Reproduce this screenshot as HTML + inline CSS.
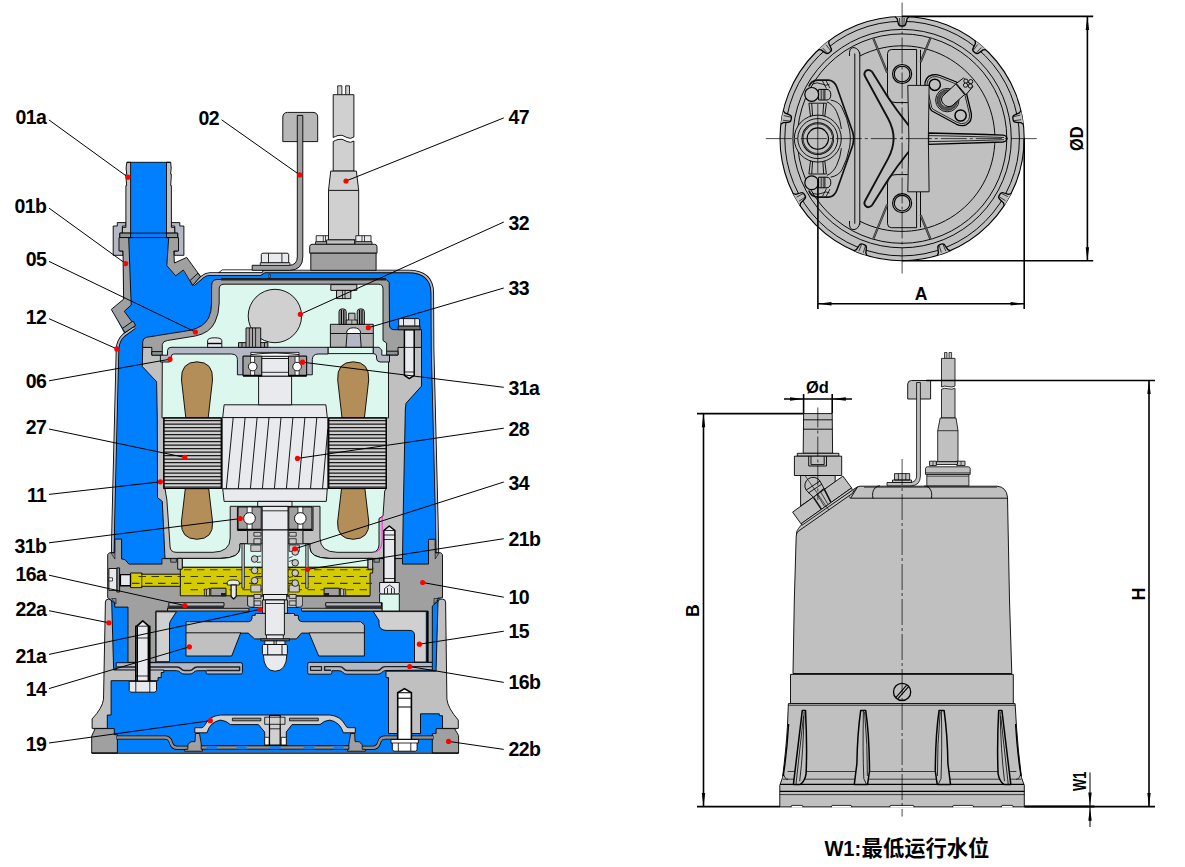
<!DOCTYPE html>
<html lang="zh">
<head>
<meta charset="utf-8">
<title>Pump sectional drawing</title>
<style>
html,body{margin:0;padding:0;background:#fff;}
svg{display:block;}
text{font-family:"Liberation Sans","Noto Sans CJK SC",sans-serif;font-weight:bold;fill:#000;}
.l{font-size:19.5px;}
.k{stroke:#000;stroke-width:0.9;fill:none;}
.ld{stroke:#000;stroke-width:1;fill:none;}
.d{fill:#ff0000;stroke:none;}
</style>
</head>
<body>
<svg width="1185" height="867" viewBox="0 0 1185 867">
<rect width="1185" height="867" fill="#fff"/>
<g id="xsec_water">
<!-- water (blue) silhouette -->
<path fill="#0080ff" d="M130.6 162.3H166.5V233L168.7 237.6L166.8 265.6L175.7 275.8L183 270.3L192.7 285.4L205.3 274.5H261L264.4 271.5H408C423 271.5 432.2 278 432.3 293L432.6 350L434.1 410L436.8 520L437.4 553L441.6 555L440.6 597V603L443.6 606L445.5 699Q447 708 456.5 721V729.5H453.5L457 736V752.5H93.3V736L96.8 729.5H93.6V721Q103 708 104.5 699L106.5 606L109.5 603V597L108.5 555L112.7 553L113.3 520L116 410L117.5 350Q117.6 340.5 124.3 334L112 309.4L123.6 299.2L123 251H119.5V237.6H128.7L130.6 233Z"/>
<!-- outer jacket (12): thin shell -->
<g fill="none" stroke-linejoin="round">
<path stroke="#000" stroke-width="3.5" d="M112.7 552.7L113.3 520L116 410L117.5 350Q117.6 340.5 124 335L134.5 327.4"/>
<path stroke="#b4b8c4" stroke-width="1.8" d="M112.7 552.7L113.3 520L116 410L117.5 350Q117.6 340.5 124 335L134.5 327.4"/>
<path stroke="#000" stroke-width="3.5" d="M193.5 284.5L203 276.5Q206 274 210 274H260.5L264.5 271.4H408C423 271.4 432.2 278 432.3 293L432.6 350L434.1 410L436.8 520L437.4 552.7"/>
<path stroke="#b4b8c4" stroke-width="1.8" d="M193.5 284.5L203 276.5Q206 274 210 274H260.5L264.5 271.4H408C423 271.4 432.2 278 432.3 293L432.6 350L434.1 410L436.8 520L437.4 552.7"/>
</g>
<!-- outlet pipe 01a -->
<g stroke="#000" stroke-width="0.9" stroke-linejoin="round">
<path fill="#b4b8c4" d="M117.3 222.6H125.9V226H122.4V233.1H119.8V251H123V255.3H113.2V226H117.3Z"/>
<path fill="#b4b8c4" d="M179.8 222.6H171.2V226H174.7V233.1H177.7V251H174.2V255.3H183.9V226H179.8Z"/>
<path fill="#c0c0c0" d="M126.8 162.3H130.6V233.1H122.4V227.4H125.9V185.6H126.6L125.9 174.2H126.7L126.1 168Z"/>
<path fill="#c0c0c0" d="M170.7 162.3H166.5V233.1H174.7V227.4H171.4V185.6H170.7L171.4 174.2H170.6L171.2 168Z"/>
<path fill="#8c9494" d="M119.8 233.1H130.6V237.6H119.8Z"/>
<path fill="#8c9494" d="M166.5 233.1H177.7V237.6H166.5Z"/>
<path fill="none" d="M126.8 162.3H170.7M130.6 233.1H166.5M128.7 237.6H168.7"/>
<!-- elbow 01b -->
<path fill="#a0a0a0" d="M119 237.6H128.7L131.2 305L124.3 311.3L135 325.9L132.8 327.5L122.4 328.4L111.3 309.4L123.6 299.2L123 251H119Z"/>
<path fill="#8c9494" d="M122.4 328.4L133 321L135.6 325.5L125 332.5Z"/>
<path fill="#a0a0a0" d="M178.5 237.6H168.7L166.8 265.6L175.7 275.8L183.3 270L192.7 285.4L200.4 276.4L186.7 257.4L174.4 263L173.8 251H178.5Z"/>
<path fill="#8c9494" d="M190 280.5L198 273.2L200.4 276.4L192.7 285.4Z"/>
</g>
</g>
<g id="xsec_motor">
<g stroke="#000" stroke-width="0.9" stroke-linejoin="round">
<path fill="#c0c0c0" d="M142.7 347.4L142.3 366.5L156.6 381.7L157.3 420L157.5 497.6L162.3 501.4L165 558.4H402.5L403.1 520L405.3 410L406 403.3L421.5 386.1V347.4Z"/>
<path fill="#a0a0a0" d="M142.7 347.4V341.7Q143 338 146.5 337.3L190.3 330.3Q204 327 208.6 318Q211.5 312 211.6 303V285.4Q211.8 279.6 217 279.5H386.2L389.2 282.5L389.5 325Q389.6 329.6 394 329.7H421.5V347.4H398V355H151.8V347.4Z"/>
<path fill="#8c9494" d="M151.8 351.6H167.7V355.2H151.8Z"/>
<path fill="#8c9494" d="M381.8 351.2H398V355H381.8Z"/>
<path fill="#dcf8ee" d="M162.3 362V344.3Q163 341 167.4 340.5L195.3 336Q210 333 215 322Q219 314 219.2 303V289Q219.3 284.3 224 284.2H378.5Q383 284.3 383 289V340.5L386.6 343V355.7H388.5V417.9H386.2V488.7L384.7 491L383 516L379 518.5V545Q378.6 552 372 552.3H337Q320.2 552 320 538V506.3H230.2V538Q230 552 213 552.3H176Q170.5 552 170.1 547L166.9 500L165 488.7H163.9V417.9H162Z"/>
<path fill="#202020" stroke="none" d="M221 277.9H386V280.6H221Z"/>
<path fill="#a0a0a0" d="M268.9 274.3h1.4v3.6h-1.4z" stroke-width="0.6"/>
<path fill="none" stroke="#ff20e0" stroke-width="1" d="M382.2 515.9V540Q382 551 374.6 552.3"/>
<path fill="#b4b8c4" d="M160.4 355.2H167.5V350.5Q167.7 347.4 171 347.3H328.2V354H318Q312.4 354.3 312.3 359.5V374.8H306.6V356.2H243.1V374.8H237.4V359.5Q237.3 354.3 231.7 354H173.5Q171.3 354.3 171.2 357V360Q171 362 169 362H160.4Z"/>
<path fill="#dcf8ee" d="M328.2 347.3H373.3V353.6H328.2Z"/>
<path fill="#b4b8c4" d="M373.3 347.3H379L381.8 350V355.2H389.5V362H380Q376.6 361.8 376.5 358V356Q376.3 353.8 373.3 353.6Z"/>
<path fill="#e8eaee" d="M207.6 347.3V340.5Q207.8 337.8 214.7 337.8Q221.6 337.8 221.8 340.5V347.3Z"/>
<path fill="none" stroke-width="1.4" d="M207.8 343.5H221.6"/>
<circle cx="274.9" cy="316" r="26.7" fill="#d0d0d0"/>
<path fill="#a0a0a0" d="M238.5 342.6H267.9V347.3H238.5Z"/>
<path fill="#a8a8a8" d="M246 327.9H260.7V347.3H246Z"/>
<path fill="none" stroke-width="0.8" d="M249.3 327.9V347M252.5 327.9V347M255.6 327.9V347M242 342.6V347M264.5 342.6V347"/>
<path fill="#c0c0c0" d="M330.8 284.6H356.8V290.4H330.8Z"/>
<path fill="#c0c0c0" d="M336.5 290.4H350.8V298.6H336.5Z"/>
<path fill="none" stroke-width="0.7" d="M342.5 290.4V298.6M345 290.4V298.6"/>
<path fill="#b0b0b0" d="M330.4 324.3H373.3V347.2H330.4Z"/>
<path fill="none" d="M330.4 333.5H346M361.2 333.5H373.3"/>
<path fill="#b4b8c4" d="M346 347.2L347 333.5H360.2L361.2 347.2Z"/>
<path fill="#fff" d="M346.5 333.5Q346.6 327.8 353.6 327.8Q360.6 327.8 360.7 333.5Z"/>
<path fill="#a8a8a8" d="M339 324.3V311.5Q339 308.8 342.6 308.8Q346.2 308.8 346.2 311.5V324.3Z"/>
<path fill="none" stroke-width="1.2" d="M341.4 310V324M343.8 310V324"/>
<path fill="#a8a8a8" d="M357.2 324.3V311.5Q357.2 308.8 360.8 308.8Q364.4 308.8 364.4 311.5V324.3Z"/>
<path fill="none" stroke-width="1.2" d="M359.59999999999997 310V324M362.0 310V324"/>
<path fill="#b8b8b8" d="M348.6 313.2H355V320H357.2V324.3H346.2V320H348.6Z"/>
<path fill="none" stroke-width="0.6" d="M348.6 320H355M351.8 320V324.3"/>
<path fill="#b48e58" d="M185.8 417.9L181.5 380Q180.5 362 197 361.8Q213.5 362 212.5 380L208.2 417.9Z"/>
<path fill="#b48e58" d="M185.3 488.7L181.4 522Q180.5 539 197 539.3Q213.5 539 212.6 522L208.7 488.7Z"/>
<path fill="#b48e58" d="M342.0 417.9L337.7 380Q336.7 362 353.2 361.8Q369.7 362 368.7 380L364.4 417.9Z"/>
<path fill="#b48e58" d="M341.5 488.7L337.59999999999997 522Q336.7 539 353.2 539.3Q369.7 539 368.8 522L364.9 488.7Z"/>
<path fill="#cfcfcf" d="M163.9 417.9H221.3V488.5H163.9Z"/>
<path fill="none" stroke="#1a1a1a" stroke-width="1.15" d="M163.9 420.60H221.3M163.9 424.10H221.3M163.9 427.60H221.3M163.9 431.10H221.3M163.9 434.60H221.3M163.9 438.10H221.3M163.9 441.60H221.3M163.9 445.10H221.3M163.9 448.60H221.3M163.9 452.10H221.3M163.9 455.60H221.3M163.9 459.10H221.3M163.9 462.60H221.3M163.9 466.10H221.3M163.9 469.60H221.3M163.9 473.10H221.3M163.9 476.60H221.3M163.9 480.10H221.3M163.9 483.60H221.3M163.9 487.10H221.3"/>
<path fill="none" stroke-width="1.1" d="M163.9 417.9H221.3V488.5H163.9Z"/>
<path fill="#cfcfcf" d="M328.7 417.9H386.2V488.5H328.7Z"/>
<path fill="none" stroke="#1a1a1a" stroke-width="1.15" d="M328.7 420.60H386.2M328.7 424.10H386.2M328.7 427.60H386.2M328.7 431.10H386.2M328.7 434.60H386.2M328.7 438.10H386.2M328.7 441.60H386.2M328.7 445.10H386.2M328.7 448.60H386.2M328.7 452.10H386.2M328.7 455.60H386.2M328.7 459.10H386.2M328.7 462.60H386.2M328.7 466.10H386.2M328.7 469.60H386.2M328.7 473.10H386.2M328.7 476.60H386.2M328.7 480.10H386.2M328.7 483.60H386.2M328.7 487.10H386.2"/>
<path fill="none" stroke-width="1.1" d="M328.7 417.9H386.2V488.5H328.7Z"/>
<path fill="#e8eaee" d="M224.1 404.8H325.9L327.3 417.6H222.7Z"/>
<path fill="#e8eaee" d="M222.7 488.7H327.3L326.3 501.4H224.1Z"/>
<path fill="#e8eaee" d="M222.2 417.6H327.8V488.7H222.2Z"/>
<path fill="none" stroke-width="0.9" d="M226.3 488.7L233.2 417.6M238.3 488.7L245.1 417.6M250.4 488.7L257.1 417.6M262.4 488.7L269.0 417.6M274.4 488.7L281.0 417.6M286.4 488.7L292.9 417.6M298.5 488.7L304.9 417.6M310.5 488.7L316.8 417.6M322.5 488.7L327.8 429.0"/>
<path fill="#e8eaee" d="M258.6 376.1H291.6V404.8H258.6Z"/>
<path fill="#fff" d="M250.8 352.4H299V356.2H250.8Z" stroke-width="0.8"/>
<path fill="none" stroke-width="0.9" d="M251 354.6Q275 351.5 299 354.6"/>
<path fill="#a0a0a0" d="M243.1 356.2H261.8V376.1H243.1Z"/>
<path fill="#a0a0a0" d="M288.5 356.2H306.6V376.1H288.5Z"/>
<path fill="#fff" stroke="none" d="M250.6 357H254.6V375.5H250.6ZM295.1 357H299.1V375.5H295.1Z"/>
<path fill="none" stroke-width="0.7" d="M250.6 356.5V376M254.6 356.5V376M295.1 356.5V376M299.1 356.5V376"/>
<circle cx="252.7" cy="366.6" r="4.3" fill="#fff"/>
<circle cx="297.1" cy="366.6" r="4.3" fill="#fff"/>
<path fill="#e8eaee" d="M261.8 358.5H288.5V376.1H261.8Z"/>
<path fill="none" stroke-width="0.8" d="M261.8 372.3H288.5"/>
<path fill="none" stroke-width="1.6" d="M243.1 375.6H261.8M288.5 375.6H306.6"/>
<path fill="none" d="M237.4 507V530.5H247.6V543.8H240V547.5Q240 558 221 558.4M313 507V530.5H302.8V543.8H309.8V547.5Q310 558 329 558.4"/>
<path fill="#c0c0c0" d="M177.7 558.4H182.2V569.2H177.7Z"/>
<path fill="#c0c0c0" d="M368 558.4H372.7V569.2H368Z"/>
<path fill="#e8eaee" d="M257.7 501.4H292V506.4H257.7Z"/>
<path fill="#a0a0a0" d="M238.1 507H261.2V529.8H238.1Z"/>
<path fill="#a0a0a0" d="M288.8 507H311.9V529.8H288.8Z"/>
<path fill="#fff" stroke="none" d="M247.2 507.5H252V529.4H247.2ZM298 507.5H302.8V529.4H298Z"/>
<path fill="none" stroke-width="0.7" d="M247.2 507V529.8M252 507V529.8M298 507V529.8M302.8 507V529.8"/>
<circle cx="249.5" cy="518.4" r="5.8" fill="#fff"/>
<circle cx="300.3" cy="518.4" r="5.8" fill="#fff"/>
<path fill="none" stroke-width="1.6" d="M238.1 529.6H261.2M288.8 529.6H311.9"/>
<path fill="#e8eaee" d="M262.2 506.4H288V530H262.2Z"/>
<path fill="none" stroke-width="0.8" d="M262.2 510.8H288"/>
</g>
</g>
<g id="xsec_lower">
<g stroke="#000" stroke-width="0.9" stroke-linejoin="round">
<path fill="#a0a0a0" d="M107.7 554.6L109.5 552.7H114.9V539.1H121.6V559L125 559.6L128.9 564.1H161.9V558.6H402.5V564.1H428.5V539.3H435.2V552.7H440.6L442.5 554.6V597.7L437.6 598.2V601.5L432.3 606V662.3H427.9V611H301.5V608.5H248.9V608.5H167.6V611H155.9V662.3H128V607.1H114.9L114.5 602.7L107.7 597.7Z"/>
<path fill="#8c9494" stroke-width="0.6" d="M111 553H114.9V559Z"/>
<path fill="#8c9494" stroke-width="0.6" d="M439 553H435.2V559Z"/>
<path fill="#8c9494" stroke-width="0.6" d="M111.5 598.5H116V604Z"/>
<path fill="#8c9494" stroke-width="0.6" d="M438.5 598.5H434V604Z"/>
<path fill="#8c9494" stroke-width="0.7" d="M170.7 558.6H176.4V562.2H170.7Z"/>
<path fill="#8c9494" stroke-width="0.7" d="M374 558.6H379.4V562.2H374Z"/>
<path fill="#dcf8ee" d="M182.2 558.4H221Q240 558 240 547.5V543.8H309.8V547.5Q310 558 329 558.4H368V567.3H182.2Z"/>
<path fill="#d4cc00" d="M180.3 567.3H372.7V573H370.1V595.8H180.3Z"/>
<path fill="#d4cc00" d="M130.5 573H141.8V574.2H180.3V586.3H141.8V587.6H130.5Z"/>
<path fill="none" stroke-width="0.7" d="M141.8 573V587.6"/>
<path fill="none" stroke="#3a3800" stroke-width="1.1" d="M184.0 569.8H191.5M197.0 569.8H204.5M210.0 569.8H217.5M223.0 569.8H230.5M236.0 569.8H243.5M249.0 569.8H256.5M262.0 569.8H269.5M275.0 569.8H282.5M288.0 569.8H295.5M301.0 569.8H308.5M314.0 569.8H321.5M327.0 569.8H334.5M340.0 569.8H347.5M353.0 569.8H360.5M366.0 569.8H372.0M138.5 576.5H146.0M151.5 576.5H159.0M164.5 576.5H172.0M177.5 576.5H185.0M190.5 576.5H198.0M203.5 576.5H211.0M216.5 576.5H224.0M229.5 576.5H237.0M242.5 576.5H250.0M255.5 576.5H263.0M268.5 576.5H276.0M281.5 576.5H289.0M294.5 576.5H302.0M307.5 576.5H315.0M320.5 576.5H328.0M333.5 576.5H341.0M346.5 576.5H354.0M359.5 576.5H367.0M132.0 583.4H139.5M145.0 583.4H152.5M158.0 583.4H165.5M171.0 583.4H178.5M184.0 583.4H191.5M197.0 583.4H204.5M210.0 583.4H217.5M223.0 583.4H230.5M236.0 583.4H243.5M249.0 583.4H256.5M262.0 583.4H269.5M275.0 583.4H282.5M288.0 583.4H295.5M301.0 583.4H308.5M314.0 583.4H321.5M327.0 583.4H334.5M340.0 583.4H347.5M353.0 583.4H360.5M366.0 583.4H372.0M190.5 589.8H198.0M203.5 589.8H211.0M216.5 589.8H224.0M229.5 589.8H237.0M242.5 589.8H250.0M255.5 589.8H263.0M268.5 589.8H276.0M281.5 589.8H289.0M294.5 589.8H302.0M307.5 589.8H315.0M320.5 589.8H328.0M333.5 589.8H341.0M346.5 589.8H354.0M359.5 589.8H367.0"/>
<path fill="#c0c0c0" d="M177.7 558.4H182.2V569.2H177.7Z"/>
<path fill="#c0c0c0" d="M368 558.4H372.7V569.2H368Z"/>
<path fill="#8c9494" d="M116.8 567.9H119.6V592H116.8Z"/>
<path fill="#e8eaee" d="M108.9 568.5H116.8V590.4H108.9Z"/>
<path fill="#fff" stroke-width="0.7" d="M108.9 577.8H112.5V581H108.9Z"/>
<path fill="#e8eaee" stroke-width="1.4" d="M120.4 574.6H130.5V585.7H120.4Z"/>
<path fill="#c0c0c0" stroke-width="0.7" d="M247.6 530.5H262.2V543.8H247.6ZM288 530.5H302.8V543.8H288Z"/>
<path fill="#0080ff" stroke="none" d="M248.9 605.5H301.5V612H248.9Z"/>
<path fill="#c0c0c0" stroke-width="0.7" d="M247.6 596.3H302.8V605.6H300L298 607.5H252L250 605.6H247.6Z"/>
<path fill="#a0a0a0" d="M210.8 588.2L226.0 588.2L226.0 595.8L210.8 595.8Z"/>
<path fill="#c0c0c0" stroke-width="0.7" d="M204.4 589L206.4 589L206.4 595.8L204.4 595.8Z"/>
<path fill="#c0c0c0" stroke-width="0.7" d="M206.4 589.5L209.5 588.2L209.5 595.8L206.4 595.8Z"/>
<path fill="#202020" stroke="none" d="M221.0 593L226.0 593L226.0 596.3L221.0 596.3Z"/>
<path fill="#c8c8c8" stroke-width="0.7" d="M253.9 532.4L260.9 532.4L260.9 536.2L253.9 536.2Z"/>
<path fill="#c8c8c8" stroke-width="0.7" d="M253.9 538.7L260.9 538.7L260.9 543.8L253.9 543.8Z"/>
<path fill="#c8c8c8" stroke-width="0.7" d="M250.8 545L260.9 545L260.9 551.4L250.8 551.4Z"/>
<path fill="#c8c8c8" stroke-width="0.7" d="M250.8 585L260.9 585L260.9 592L250.8 592Z"/>
<path fill="#c8c8c8" stroke-width="0.7" d="M253.9 594.5L260.9 594.5L260.9 598.4L253.9 598.4Z"/>
<path fill="#c8c8c8" stroke-width="0.7" d="M253.9 600.9L260.9 600.9L260.9 605.3L253.9 605.3Z"/>
<path fill="#b4b8c4" stroke-width="0.7" d="M241.9 543.8L244.4 543.8L244.4 588.2L241.9 588.2Z"/>
<path fill="#c0c0c0" stroke-width="0.7" d="M247.6 596.3L253.9 596.3L253.9 607.1L249.5 607.1L247.6 605Z"/>
<path fill="#a0a0a0" d="M339.3 588.2L324.1 588.2L324.1 595.8L339.3 595.8Z"/>
<path fill="#c0c0c0" stroke-width="0.7" d="M345.7 589L343.7 589L343.7 595.8L345.7 595.8Z"/>
<path fill="#c0c0c0" stroke-width="0.7" d="M343.7 589.5L340.6 588.2L340.6 595.8L343.7 595.8Z"/>
<path fill="#202020" stroke="none" d="M329.1 593L324.1 593L324.1 596.3L329.1 596.3Z"/>
<path fill="#c8c8c8" stroke-width="0.7" d="M296.2 532.4L289.2 532.4L289.2 536.2L296.2 536.2Z"/>
<path fill="#c8c8c8" stroke-width="0.7" d="M296.2 538.7L289.2 538.7L289.2 543.8L296.2 543.8Z"/>
<path fill="#c8c8c8" stroke-width="0.7" d="M299.3 545L289.2 545L289.2 551.4L299.3 551.4Z"/>
<path fill="#c8c8c8" stroke-width="0.7" d="M299.3 585L289.2 585L289.2 592L299.3 592Z"/>
<path fill="#c8c8c8" stroke-width="0.7" d="M296.2 594.5L289.2 594.5L289.2 598.4L296.2 598.4Z"/>
<path fill="#c8c8c8" stroke-width="0.7" d="M296.2 600.9L289.2 600.9L289.2 605.3L296.2 605.3Z"/>
<path fill="#b4b8c4" stroke-width="0.7" d="M308.2 543.8L305.7 543.8L305.7 588.2L308.2 588.2Z"/>
<path fill="#c0c0c0" stroke-width="0.7" d="M302.5 596.3L296.2 596.3L296.2 607.1L300.6 607.1L302.5 605Z"/>
<circle cx="254.6" cy="559" r="3.3" fill="#c8c8c8" stroke-width="0.8"/>
<circle cx="254.6" cy="570.4" r="3.3" fill="#c8c8c8" stroke-width="0.8"/>
<circle cx="254.6" cy="580.6" r="3.3" fill="#c8c8c8" stroke-width="0.8"/>
<circle cx="295.2" cy="552" r="3.3" fill="#c8c8c8" stroke-width="0.8"/>
<circle cx="295.2" cy="562.8" r="3.3" fill="#c8c8c8" stroke-width="0.8"/>
<circle cx="295.2" cy="573" r="3.3" fill="#c8c8c8" stroke-width="0.8"/>
<circle cx="295.2" cy="583.1" r="3.3" fill="#c8c8c8" stroke-width="0.8"/>
<path fill="none" stroke-width="0.7" d="M257 556.5L261 556M257 562.5L261 562M257 567.5L261 568M257 574L261 573.5M257 578L261 578M289 558L292.5 556.5M289 561.5L293 560M289 568.5L293 567M289 577.5L293 576.5M289 581L293 580"/>
<path fill="#e8eaee" stroke-width="0.8" d="M227.3 585V582.5Q227.5 580 233.3 580Q239.1 580 239.3 582.5V585Z"/>
<path fill="#e8eaee" stroke-width="1.1" d="M231.1 585H236.2V596.5L233.6 599L231.1 596.5Z"/>
<path fill="#e8eaee" d="M262.2 530H288V594.5H262.2Z"/>
<path fill="#e8eaee" d="M263.5 594.5H286.7V600H263.5Z"/>
<path fill="#b4b8c4" d="M168.8 602.7H224V606.1H168.8Z"/>
<path fill="#303030" stroke="none" d="M167.6 606.1H224V608.6H167.6Z"/>
<path fill="#b4b8c4" d="M325.7 602.7H381.5V606.1H325.7Z"/>
<path fill="#303030" stroke="none" d="M325.7 606.1H382.2V608.6H325.7Z"/>
<path fill="#b0b0b0" stroke-width="0.8" d="M167.6 608.3H248.9V611H167.6Z"/>
<path fill="#b0b0b0" stroke-width="0.8" d="M301.5 608.3H382.2V611H301.5Z"/>
<path fill="#a0a0a0" d="M302.8 596.3H380V607.1H302.8Z" stroke="none"/>
<path fill="none" d="M302.8 596.3H370"/>
<path fill="#b4b8c4" d="M325.7 602.7H381.5V606.1H325.7Z"/>
<path fill="#303030" stroke="none" d="M325.7 606.1H382.2V608.6H325.7Z"/>
<path fill="#dcf8ee" d="M379.6 593.9H399.3V611H382.2V602.7H379.6Z"/>
<path fill="#e8eaee" stroke-width="1.5" d="M383.8 582.5V530.5L389.3 526L394.9 530.5V582.5Z"/>
<path fill="none" stroke-width="0.8" d="M383.8 530.5H394.9M383.8 535H394.9M383.8 539.5H394.9M383.8 578.5H394.9"/>
<path fill="#e8eaee" d="M379.6 582.5H399.3V592.5L398 593.9H381L379.6 592.5Z"/>
<path fill="none" stroke-width="0.8" d="M384.5 593.9V588.5L389.4 585L394.4 588.5V593.9M387.5 588V593.9M391.5 588V593.9"/>
<path fill="#d0d0d0" d="M156.1 611.8H176.4L170.7 620.5Q169.5 622.5 169.5 625V661.7H156.1Z"/>
<path fill="#d0d0d0" d="M373.3 611.6H426.3V662.1H414.5V635Q414.3 630.6 410 630.4H386Q379.3 630 379 624L379 620.5Z"/>
<path fill="none" stroke-width="1.6" d="M427.6 611V662"/>
<path fill="#c0c0c0" d="M186 621.7H248.5Q251.5 621.5 252 618.5V615.4H255.2V613.5H294.5V615.4H298.4V618.5Q298.8 621.5 302 621.7H360.6L364.4 625V656H318.7L309.1 633.1H301.5L296.4 638.9H254.6L248.2 633.1H240.6L231.7 656H186Z"/>
<path fill="none" d="M186 632.8H241M309 632.8H364.4"/>
<path fill="none" stroke="#00e0e0" stroke-width="1" d="M186.3 625L189.5 622"/>
<path fill="#c0c0c0" stroke-width="0.8" d="M262.5 600H287.5V613.3H262.5Z"/>
<path fill="#e8eaee" d="M265.4 600H284.4V635H265.4Z"/>
<path fill="#e8eaee" stroke-width="0.8" d="M266.5 635H283.3V638.9H266.5Z"/>
<path fill="none" stroke-width="0.8" d="M265.4 603.5H284.4"/>
<path fill="#808080" stroke-width="0.8" d="M260.7 638.9H289.5V640.8H260.7Z"/>
<path fill="#e8eaee" d="M263.3 654.8Q263.8 671 275.1 671.2Q286.4 671 286.9 654.8Z"/>
<path fill="#e8eaee" stroke-width="0.8" d="M264.8 640.9H284.9V644.5H264.8Z"/>
<path fill="#e8eaee" d="M263.6 644.5H286.2Q287.4 644.6 287.4 645.8V653.5Q287.4 654.8 286.2 654.8H263.6Q262.4 654.8 262.4 653.5V645.8Q262.4 644.6 263.6 644.5Z"/>
<path fill="none" stroke-width="0.9" d="M267.7 644.5V654.8M282 644.5V654.8M274 641V644.5M276.2 641V644.5"/>
<path fill="#b4b8c4" d="M116.2 662.7H240.9Q242.4 662.7 242.4 664.2V672.5Q242.4 674 240.9 674H207.6Q206.1 674 206.1 672.3V670.7H197.5Q195 670.8 193.5 672.5Q192 674 190 674H184Q182 674 180.5 672.5Q179 670.8 176.5 670.7L116.2 670.3Z"/>
<path fill="none" stroke="#202020" stroke-width="1.5" d="M116.6 666.9H177Q179.5 667 181 668.7Q182.5 670.5 184.5 670.6H189.7Q191.7 670.5 193.2 668.7Q194.7 667 197.2 666.9H239.6V670.4H206.5"/>
<path fill="#b4b8c4" d="M432.3 662.4H309.2Q307.7 662.4 307.7 664V672.7Q307.7 674.2 309.2 674.2H330.4Q331.9 674.2 331.9 672.5V670.7H339Q341.5 670.8 343 672.5Q344.5 674.2 346.5 674.2H378.2Q380.2 674.2 381.7 672.5Q383.2 670.8 385.5 670.5L432.3 670.1Z"/>
<path fill="none" stroke="#202020" stroke-width="1.2" d="M310.5 666.6H321.5V670.3H310.5Z"/>
<path fill="none" stroke="#202020" stroke-width="1.4" d="M331 670.3H324.6V666.6H339.6Q342 666.7 343.5 668.5Q345 670.4 347 670.5H377.7Q379.7 670.4 381.2 668.5Q382.7 666.7 385 666.6H432"/>
<path fill="#c0c0c0" d="M105.4 602Q105.6 599.2 108.5 599.1Q111.5 599.2 111.7 602L113.6 668.7V670H163.8V672.5H161.2V677.6H158V680.7H111.1V715H107.3V728.4H92.1V718.9Q102.5 708 103.5 699.2Z"/>
<path fill="#c0c0c0" d="M445.6 602Q445.4 599.2 442.5 599.1Q438.2 599.2 438 602L436.1 668.7V671.2H386V677.6H388.5V733.5H420.5V713.8H439.3V715.7H442.5V728.4H458.3V720.1Q447.8 708 446.9 699.2Z"/>
<path fill="#a0a0a0" d="M91.7 736L95.2 728.6H114.3V734.7H117.4V753.1H91.7Z"/>
<path fill="#a0a0a0" d="M458.6 735.4L454.5 728.6H436.1V733.5H432.3V753.1H458.6Z"/>
<path fill="none" stroke="#000" stroke-width="4" d="M116.5 737.5H165Q169 737.6 170.3 741L171.5 744Q172.8 747.6 177 747.7H188"/>
<path fill="none" stroke="#909090" stroke-width="2.4" d="M116.9 737.5H165Q169 737.6 170.3 741L171.5 744Q172.8 747.6 177 747.7H188"/>
<path fill="none" stroke="#000" stroke-width="4" d="M433.5 737.5H385Q381 737.6 379.7 741L378.5 744Q377.2 747.6 373 747.7H362"/>
<path fill="none" stroke="#909090" stroke-width="2.4" d="M433.1 737.5H385Q381 737.6 379.7 741L378.5 744Q377.2 747.6 373 747.7H362"/>
<path fill="none" stroke="#000" stroke-width="4.2" d="M199.3 747.4H351"/>
<path fill="none" stroke="#909090" stroke-width="2.5" d="M199.3 747.4H351"/>
<path fill="none" stroke="#0080ff" stroke-width="2.5" d="M206.3 747.4H217.2M236.8 747.4H246.5M269.7 747.4H280.7M303.5 747.4H314.3M333.7 747.4H343.5"/>
<path fill="#a0a0a0" stroke-width="0.8" d="M184.7 749.3L187.9 749.3L187.9 744.5L191.0 741.7L195.0 741.7L195.5 733.5L199.5 733.5L201.2 744L201.2 749.3L202.5 749.3L202.5 751.2L184.7 751.2Z"/>
<path fill="#a0a0a0" stroke-width="0.8" d="M365.4 749.3L362.2 749.3L362.2 744.5L359.1 741.7L355.1 741.7L354.6 733.5L350.6 733.5L348.9 744L348.9 749.3L347.6 749.3L347.6 751.2L365.4 751.2Z"/>
<path fill="#d0d0d0" d="M194.8 727.7H201.8Q203.5 727.5 204.5 725.5Q209 716 220.3 715H329.8Q341 716 345.6 725.5Q346.5 727.5 348.3 727.7H355.3V732.8H343.4Q340 722 329.8 720.1Q324 720.5 320 724.6H292L286.3 732V737.3H286.3V744.9H264.7V737.3V732L258.4 724.6H230.5Q226 720.5 220.3 720.1Q210 722 207 732.8H194.8Z"/>
<path fill="#909090" stroke-width="0.8" d="M232.4 718.2H260.9V720.8H232.4ZM289.5 718.2H318.3V720.8H289.5Z"/>
<path fill="#fff" stroke-width="0.8" d="M264.7 737.3H269.2V744.9H264.7ZM281.2 737.3H286.3V744.9H281.2Z"/>
<path fill="#d0d0d0" stroke-width="1.2" d="M269.5 715.3H280.2V745H269.5Z"/>
<path fill="#d0d0d0" stroke-width="0.8" d="M264.7 717.2H285V724.3H264.7Z"/>
<path fill="none" stroke-width="0.8" d="M269.5 717.2V724.3M280.2 717.2V724.3M269.5 728.8H280.2"/>
<path fill="#e8eaee" stroke-width="1.6" d="M135.8 681.4V626.2H136.8L142.8 620.8L148.8 626.2H149.8V681.4Z"/>
<path fill="none" stroke-width="1.4" d="M137.3 626.5V681M148.3 626.5V681"/>
<path fill="none" stroke-width="0.8" d="M136.8 626.2H148.8M136 638H149.5M136 676H149.5"/>
<path fill="#e8eaee" d="M129.2 681.4H156.5V690.5L155 692.2H130.7L129.2 690.5Z"/>
<path fill="none" stroke-width="0.8" d="M135.8 681.4V692M149.8 681.4V692"/>
<path fill="#fff" stroke-width="1.6" d="M397.7 739.5V692.8L404.5 688.6L411.4 692.8V739.5Z"/>
<path fill="none" stroke-width="1.1" d="M397.7 692.8H411.4M397.7 698.2H411.4M397.7 707H411.4"/>
<path fill="#fff" d="M391 739.5H418.4V743H417.1V749.8L415.5 751.2H394L392.3 749.8V743H391Z"/>
<path fill="none" stroke-width="0.8" d="M392.3 743H417.1M398.3 743V751M410.8 743V751"/>
<path fill="none" stroke-width="1.2" d="M91.7 753.1H458.6"/>
</g>
</g>
<g id="xsec_top">
<g stroke="#000" stroke-width="0.9" stroke-linejoin="round">
<!-- white plate under handle base -->
<path fill="#fff" stroke-width="0.8" d="M218.8 272.6L222.3 269.8H262.7V272.6Z"/>
<!-- handle 02 -->
<path fill="#b8b8b8" d="M282.8 141.6V117Q283 112.5 287.5 112.4H313Q317.5 112.5 317.7 117V141.6Z"/>
<path fill="#a0a0a0" d="M297.3 115.4H302.8V257Q302.6 270.2 289.5 270.3H252.2V265.3H289Q297.2 265.2 297.3 257Z"/>
<!-- bolt on handle base -->
<path fill="#e8eaee" stroke-width="0.8" d="M260.3 262.7H289.8V265.3H260.3Z"/>
<path fill="#e8eaee" d="M261.3 262.7V254.5Q261.5 253.2 263 253.2H287Q288.5 253.2 288.7 254.5V262.7Z"/>
<path fill="none" stroke-width="0.8" d="M268.5 253.4V262.7M281.9 253.4V262.7"/>
<!-- cable -->
<path fill="#d0d0d0" stroke-width="0.8" d="M337.7 94.7V85.8H341.9V94.7M345.7 94.7V85.8H349.5V94.7"/>
<path fill="#d0d0d0" d="M333.2 94.7H353.9V137Q350.5 139.5 347 137.5Q341.5 134 338 135.5Q335 136.5 333.2 137.5Z"/>
<path fill="#d0d0d0" d="M333.2 171.1V141.5Q335 140.5 338 139.5Q341.5 138 347 141.5Q350.5 143.5 353.9 141V171.1Z"/>
<!-- cable sleeve 47 -->
<path fill="#d0d0d0" d="M330.7 171.1H356.4L358.7 190.4V239.9H328.5V190.4Z"/>
<path fill="none" d="M328.5 190.4H358.7"/>
<!-- gland -->
<path fill="#e8eaee" stroke-width="0.8" d="M316.2 235.7H328.5V241.8H316.2ZM355.8 235.7H371V241.8H355.8Z"/>
<path fill="none" stroke-width="0.7" d="M323.3 235.7V241.8M325.5 235.7V241.8M362 235.7V241.8M364.5 235.7V241.8"/>
<path fill="#c0c0c0" stroke-width="0.8" d="M315.5 241.8H328V244.3H315.5ZM355 241.8H372V244.3H355Z"/>
<path fill="#c0c0c0" stroke-width="0.8" d="M326.6 239.9H354.5V244.3H326.6Z"/>
<path fill="#b0b0b0" d="M309.7 253.2V246.5Q309.9 244.4 312 244.3H374.7Q376.8 244.4 377 246.5V253.2Z"/>
<path fill="#a0a0a0" d="M310.8 253.2H376.1V270.3H310.8Z"/>
<!-- bolt on right flange of cover -->
<path fill="#e8eaee" stroke-width="1.5" d="M404.4 329.7H414.2V375.4L409.3 378.6L404.4 375.4Z"/>
<path fill="none" stroke-width="0.8" d="M404.4 347.4H414.2M404.4 372H414.2"/>
<path fill="#707070" stroke-width="0.8" d="M398.2 325.9H420.1V329.7H398.2Z"/>
<path fill="#e8eaee" d="M398.7 325.9V319.8Q398.9 318.6 400.2 318.6H418Q419.4 318.6 419.6 319.8V325.9Z"/>
<path fill="none" stroke-width="0.8" d="M403.5 318.8V325.9M414.8 318.8V325.9"/>
</g>
</g>
<g id="xsec_labels">
<g class="ld">
<line x1="48.9" y1="119.9" x2="127.9" y2="177.2"/>
<line x1="49" y1="208.1" x2="125.6" y2="263.6"/>
<line x1="49" y1="261.4" x2="195.4" y2="332"/>
<line x1="49" y1="318.7" x2="116.8" y2="348.9"/>
<line x1="49" y1="380.8" x2="170" y2="359.2"/>
<line x1="49" y1="429" x2="184.8" y2="457.4"/>
<line x1="49" y1="494.4" x2="160.4" y2="481.8"/>
<line x1="49" y1="542.8" x2="240.2" y2="518.6"/>
<line x1="49" y1="575.2" x2="184.9" y2="605.6"/>
<line x1="49" y1="610.7" x2="108.9" y2="622.8"/>
<line x1="49" y1="654.4" x2="260" y2="609.4"/>
<line x1="49" y1="688.6" x2="189.4" y2="646.8"/>
<line x1="49" y1="743" x2="210.3" y2="720.7"/>
<line x1="221.6" y1="119.8" x2="299.7" y2="174.9"/>
<line x1="503.8" y1="117.9" x2="346" y2="181"/>
<line x1="503.8" y1="222" x2="300.3" y2="314.3"/>
<line x1="503.8" y1="288" x2="368.3" y2="327.7"/>
<line x1="503.8" y1="387.3" x2="302.5" y2="362.2"/>
<line x1="503.8" y1="428.2" x2="297.5" y2="458.4"/>
<line x1="503.8" y1="482" x2="294.8" y2="548.8"/>
<line x1="503.8" y1="538.7" x2="307.5" y2="569.3"/>
<line x1="503.8" y1="597.2" x2="422.7" y2="582.5"/>
<line x1="503.8" y1="631.2" x2="419.4" y2="644.2"/>
<line x1="503.8" y1="682.4" x2="409.7" y2="666.5"/>
<line x1="503.8" y1="749.4" x2="448.6" y2="741.4"/>
</g>
<g class="d">
<circle cx="127.9" cy="177.2" r="2.6"/>
<circle cx="125.6" cy="263.6" r="2.6"/>
<circle cx="195.4" cy="332" r="2.6"/>
<circle cx="116.8" cy="348.9" r="2.6"/>
<circle cx="170" cy="359.2" r="2.6"/>
<circle cx="184.8" cy="457.4" r="2.6"/>
<circle cx="160.4" cy="481.8" r="2.6"/>
<circle cx="240.2" cy="518.6" r="2.6"/>
<circle cx="184.9" cy="605.6" r="2.6"/>
<circle cx="108.9" cy="622.8" r="2.6"/>
<circle cx="260" cy="609.4" r="2.6"/>
<circle cx="189.4" cy="646.8" r="2.6"/>
<circle cx="210.3" cy="720.7" r="2.6"/>
<circle cx="299.7" cy="174.9" r="2.6"/>
<circle cx="346" cy="181" r="2.6"/>
<circle cx="300.3" cy="314.3" r="2.6"/>
<circle cx="368.3" cy="327.7" r="2.6"/>
<circle cx="302.5" cy="362.2" r="2.6"/>
<circle cx="297.5" cy="458.4" r="2.6"/>
<circle cx="294.8" cy="548.8" r="2.6"/>
<circle cx="307.5" cy="569.3" r="2.6"/>
<circle cx="422.7" cy="582.5" r="2.6"/>
<circle cx="419.4" cy="644.2" r="2.6"/>
<circle cx="409.7" cy="666.5" r="2.6"/>
<circle cx="448.6" cy="741.4" r="2.6"/>
</g>
<g class="l" text-anchor="end" letter-spacing="-0.55">
<text x="46.4" y="124.4">01a</text>
<text x="46.4" y="212.6">01b</text>
<text x="46.4" y="265.9">05</text>
<text x="46.4" y="324.1">12</text>
<text x="46.4" y="388.4">06</text>
<text x="46.4" y="433.7">27</text>
<text x="46.4" y="502.3">11</text>
<text x="46.4" y="552.7">31b</text>
<text x="46.4" y="580.9">16a</text>
<text x="46.4" y="616.4">22a</text>
<text x="46.4" y="662.6">21a</text>
<text x="46.4" y="696.4">14</text>
<text x="46.4" y="750.5">19</text>
</g>
<g class="l" letter-spacing="-0.55">
<text x="198.4" y="124.9">02</text>
<text x="508.4" y="124.3">47</text>
<text x="508.4" y="229.8">32</text>
<text x="508.4" y="295.4">33</text>
<text x="508.4" y="394.6">31a</text>
<text x="508.4" y="435.9">28</text>
<text x="508.4" y="489.8">34</text>
<text x="508.4" y="546.3">21b</text>
<text x="508.4" y="603.8">10</text>
<text x="508.4" y="637.8">15</text>
<text x="508.4" y="688.5">16b</text>
<text x="508.4" y="756">22b</text>
</g>
</g>
<g id="topview">
<g stroke="#000" stroke-width="0.95" fill="none" stroke-linejoin="round" stroke-linecap="butt">
<circle cx="902.1" cy="138.6" r="122.1" fill="#c0c0c0" stroke-width="1.1"/>
<circle cx="902.1" cy="138.6" r="117.3"/>
<circle cx="902.1" cy="138.6" r="109.2"/>
<circle cx="902.1" cy="138.6" r="104.7"/>
<path d="M859.8 56.0A92.8 92.8 0 1 1 859.8 221.2"/>
<path fill="#c0c0c0" stroke-width="1.3" d="M895.1 16.6L897.1 18.6L898.2 23.1Q898.7 26.0 900.9 26.0L903.3 26.0Q905.5 26.0 906.0 23.1L907.1 18.6L909.1 16.6"/>
<path stroke-width="0.7" d="M899.5 18.0L899.9 25.2M904.2 18.0L903.9 25.2"/>
<path fill="#c0c0c0" stroke-width="1.3" d="M975.2 40.6L975.4 43.5L973.4 47.6Q971.9 50.2 973.6 51.6L975.4 53.1Q977.1 54.5 979.3 52.6L983.1 49.9L985.9 49.6"/>
<path stroke-width="0.7" d="M977.6 44.5L973.3 50.3M981.2 47.6L976.4 52.9"/>
<path fill="#c0c0c0" stroke-width="1.3" d="M1021.0 110.5L1019.4 112.8L1015.2 114.7Q1012.4 115.7 1012.8 117.9L1013.2 120.2Q1013.6 122.4 1016.5 122.4L1021.1 122.7L1023.5 124.3"/>
<path stroke-width="0.7" d="M1020.4 115.1L1013.4 116.7M1021.2 119.7L1014.1 120.7"/>
<path fill="#c0c0c0" stroke-width="1.3" d="M1011.3 193.5L1008.5 194.3L1004.1 193.0Q1001.3 192.0 1000.2 193.9L999.0 195.9Q997.9 197.8 1000.2 199.7L1003.5 202.9L1004.3 205.7"/>
<path stroke-width="0.7" d="M1007.8 196.6L1001.4 193.4M1005.5 200.7L999.4 196.9"/>
<path fill="#c0c0c0" stroke-width="1.3" d="M950.4 250.8L947.8 249.7L945.3 245.8Q943.8 243.2 941.7 244.0L939.5 244.8Q937.4 245.6 937.9 248.5L938.4 253.1L937.2 255.6"/>
<path stroke-width="0.7" d="M945.8 251.0L943.0 244.4M941.4 252.6L939.2 245.8"/>
<path fill="#c0c0c0" stroke-width="1.3" d="M867.0 255.6L865.8 253.1L866.3 248.5Q866.8 245.6 864.7 244.8L862.5 244.0Q860.4 243.2 858.9 245.8L856.4 249.7L853.8 250.8"/>
<path stroke-width="0.7" d="M863.3 252.8L865.4 245.9M858.9 251.2L861.6 244.5"/>
<path fill="#c0c0c0" stroke-width="1.3" d="M799.9 205.7L800.7 202.9L804.0 199.7Q806.3 197.8 805.2 195.9L804.0 193.9Q802.9 192.0 800.1 193.0L795.7 194.3L792.9 193.5"/>
<path stroke-width="0.7" d="M799.0 201.2L805.0 197.2M796.6 197.1L803.0 193.7"/>
<path fill="#c0c0c0" stroke-width="1.3" d="M780.7 124.3L783.1 122.7L787.7 122.4Q790.6 122.4 791.0 120.2L791.4 117.9Q791.8 115.7 789.0 114.7L784.8 112.8L783.2 110.5"/>
<path stroke-width="0.7" d="M782.9 120.2L790.0 121.1M783.7 115.6L790.7 117.1"/>
<path fill="#c0c0c0" stroke-width="1.3" d="M818.3 49.6L821.1 49.9L824.9 52.6Q827.1 54.5 828.8 53.1L830.6 51.6Q832.3 50.2 830.8 47.6L828.8 43.5L829.0 40.6"/>
<path stroke-width="0.7" d="M822.6 47.9L827.5 53.1M826.2 44.9L830.6 50.6"/>
<path d="M854.8 52V225M859.8 52.5V224.7"/>
<path fill="#c0c0c0" d="M849.5 52.5Q849.8 47.3 854 47.6Q859 48.5 859.8 54.5M849.5 224.7Q849.8 229.9 854 229.6Q859 228.7 859.8 222.7M849.5 52.5V56M849.5 224.7V221"/>
<path d="M887.5 93.5V53.5Q887.6 49.5 891.5 49.5H916.6V85.4"/>
<path d="M920.5 49.8V85.4"/>
<path d="M887.5 93.5Q887.6 102.5 896 102.6H907.8"/>
<circle cx="902.1" cy="74.0" r="9.5" stroke-width="1.2"/>
<circle cx="902.1" cy="74.0" r="7.8" stroke-width="1.1"/>
<path stroke-width="2.2" stroke="#222" d="M873.4 38.599999999999994L887.2 72.5"/>
<path stroke-width="2.2" stroke="#222" d="M930.4 38.2L920.6 62.0"/>
<path stroke-width="0.5" stroke="#c0c0c0" d="M873.4 38.599999999999994L887.2 72.5M930.4 38.2L920.6 62.0"/>
<path d="M887.5 183.7V223.7Q887.6 227.7 891.5 227.7H916.6V191.79999999999998"/>
<path d="M920.5 227.39999999999998V191.79999999999998"/>
<path d="M887.5 183.7Q887.6 174.7 896 174.6H907.8"/>
<circle cx="902.1" cy="203.2" r="9.5" stroke-width="1.2"/>
<circle cx="902.1" cy="203.2" r="7.8" stroke-width="1.1"/>
<path stroke-width="2.2" stroke="#222" d="M873.4 238.6L887.2 204.7"/>
<path stroke-width="2.2" stroke="#222" d="M930.4 239.0L920.6 215.2"/>
<path stroke-width="0.5" stroke="#c0c0c0" d="M873.4 238.6L887.2 204.7M930.4 239.0L920.6 215.2"/>
<path stroke-width="1.9" stroke="#111" d="M871.9 71.6Q868 68.5 865.3 71.5Q863.6 73.8 865 76.2L888.2 118.8Q893.6 129.0 893.6 138.6"/>
<path stroke-width="1.9" stroke="#111" d="M871.9 71.6L887.3 96.3Q897 111.0 908.8 125.7"/>
<path stroke-width="1.9" stroke="#111" d="M871.9 205.6Q868 208.7 865.3 205.7Q863.6 203.39999999999998 865 201.0L888.2 158.39999999999998Q893.6 148.2 893.6 138.6"/>
<path stroke-width="1.9" stroke="#111" d="M871.9 205.6L887.3 180.89999999999998Q897 166.2 908.8 151.5"/>
<path fill="#c0c0c0" stroke-width="1.3" d="M928.5 133Q970 134 1003 135.2Q1006.8 135.6 1006.8 138.6Q1006.8 141.6 1003 142Q970 143.2 928.5 144.4Z"/>
<path stroke-width="0.8" d="M928.5 135.6Q970 136.3 1004 137.5M928.5 141.6Q970 140.9 1004 139.7"/>
<path fill="#c0c0c0" stroke-width="1.3" d="M925 86.5Q924.2 77 932 75Q936 74 940 75.5L956.5 82L966.5 93.5L971.3 113.5Q972.5 121.5 966 124.8Q961.5 126.8 956.5 124.3L932 111Q929.6 109 929.2 105Z"/>
<path stroke-width="0.8" d="M927 86.8Q926.4 78.6 932.6 76.9Q936 76.1 939.4 77.4L955.4 83.7L964.8 94.5L969.4 113.7Q970.3 120.3 965.2 123Q961.6 124.6 957.4 122.5L933.2 109.4Q931.4 108 931.1 104.8Z"/>
<circle cx="934.8" cy="84.8" r="5.6" fill="#c0c0c0" stroke-width="1.5"/>
<circle cx="960.6" cy="115.5" r="5.6" fill="#c0c0c0" stroke-width="1.5"/>
<circle cx="947.3" cy="100.1" r="11.7" stroke-width="0.9"/>
<circle cx="947.3" cy="100.1" r="8.8" stroke-width="2.6" stroke="#555"/>
<circle cx="947.3" cy="100.1" r="10.3" stroke-width="0.7"/>
<circle cx="947.3" cy="100.1" r="7.3" stroke-width="0.7"/>
<path fill="#c0c0c0" stroke-width="1" d="M943.5 104Q940 100.1 942.6 96.2L955.8 84L964.5 94.5L952.1 105.8Q947.5 108 943.5 104Z"/>
<path fill="#c0c0c0" stroke-width="1" d="M956.3 83.5L963.5 78L973 86.5L965.8 94.8Z"/>
<circle cx="965.9" cy="81.1" r="2.1" fill="#c0c0c0" stroke-width="0.9"/>
<circle cx="970.7" cy="81.6" r="2.1" fill="#c0c0c0" stroke-width="0.9"/>
<circle cx="965.5" cy="85.2" r="2.1" fill="#c0c0c0" stroke-width="0.9"/>
<circle cx="970.3" cy="86" r="2.1" fill="#c0c0c0" stroke-width="0.9"/>
<path fill="#c0c0c0" stroke-width="0.9" d="M907.8 85.4H929.1Q927.6 138.6 929.1 191.8H907.8Q909.9 138.6 907.8 85.4Z"/>
<path stroke-width="1.7" stroke="#111" d="M808.9 86.6Q811 80.3 817.7 80.1H828.7Q834.5 80.5 837 87.5L852.7 132.0Q853.6 135.5 853.6 138.6"/>
<path stroke-width="0.9" d="M830.6 100.0Q838.5 101.5 841.7 107.0Q847.5 118.0 849.6 130.0Q850.3 134.5 850.3 138.6"/>
<path stroke-width="0.9" d="M826.9 101.8Q833 104.5 836.5 111.5Q840.5 120.0 841.4 129.0"/>
<path stroke-width="0.8" d="M812.5 84.0Q817 81.8 822 84.0Q826 86.5 829.5 84.2M822.5 81.0L826.5 88.6M826 80.6L830 88.2"/>
<path fill="#c0c0c0" stroke-width="1" d="M818.6 89.4H827Q830.8 90.0 830.8 94.7Q830.8 99.5 827 100.0H818.6Z"/>
<path stroke-width="0.8" d="M821.2 89.6V99.8M824.2 89.6V99.8"/>
<path stroke-width="0.5" d="M825.2 89.6V99.8M823.2 89.6V99.8"/>
<circle cx="811.7" cy="94.4" r="6.9" fill="#c0c0c0" stroke-width="1.2"/>
<path stroke-width="0.9" d="M808.9 103.2H826.4M808.9 103.2L810.6 117.0M826.4 103.2L824.7 117.0M811.7 103.2L812.6 116.0M823.7 103.2L822.8 116.0M811.5 116.0H824"/>
<path stroke-width="1.7" stroke="#111" d="M808.9 190.6Q811 196.89999999999998 817.7 197.1H828.7Q834.5 196.7 837 189.7L852.7 145.2Q853.6 141.7 853.6 138.6"/>
<path stroke-width="0.9" d="M830.6 177.2Q838.5 175.7 841.7 170.2Q847.5 159.2 849.6 147.2Q850.3 142.7 850.3 138.6"/>
<path stroke-width="0.9" d="M826.9 175.39999999999998Q833 172.7 836.5 165.7Q840.5 157.2 841.4 148.2"/>
<path stroke-width="0.8" d="M812.5 193.2Q817 195.39999999999998 822 193.2Q826 190.7 829.5 193.0M822.5 196.2L826.5 188.6M826 196.6L830 189.0"/>
<path fill="#c0c0c0" stroke-width="1" d="M818.6 187.79999999999998H827Q830.8 187.2 830.8 182.5Q830.8 177.7 827 177.2H818.6Z"/>
<path stroke-width="0.8" d="M821.2 187.6V177.39999999999998M824.2 187.6V177.39999999999998"/>
<path stroke-width="0.5" d="M825.2 187.6V177.39999999999998M823.2 187.6V177.39999999999998"/>
<circle cx="811.7" cy="182.79999999999998" r="6.9" fill="#c0c0c0" stroke-width="1.2"/>
<path stroke-width="0.9" d="M808.9 174.0H826.4M808.9 174.0L810.6 160.2M826.4 174.0L824.7 160.2M811.7 174.0L812.6 161.2M823.7 174.0L822.8 161.2M811.5 161.2H824"/>
<circle cx="817.8" cy="138.6" r="23.5" fill="#c0c0c0" stroke-width="0.9"/>
<circle cx="817.8" cy="138.6" r="20" stroke-width="0.9"/>
<circle cx="817.8" cy="138.6" r="15.3" stroke-width="2"/>
<circle cx="817.8" cy="138.6" r="15.3" stroke-width="0.5" stroke="#c0c0c0"/>
<circle cx="817.8" cy="138.6" r="10.7" stroke-width="1.1"/>
<path stroke-width="0.7" stroke-dasharray="26 3 3 3" d="M902.1 2.5V274.2"/>
<path stroke-width="0.7" stroke-dasharray="26 3 3 3" d="M765.8 138.6H1039"/>
<path stroke-width="0.7" d="M817.8 104V173"/>
</g>
</g>
<g id="sideview">
<g stroke="#000" stroke-width="0.9" fill="none" stroke-linejoin="round">
<path fill="#c0c0c0" d="M803.6 413.6H832.2L832.6 453.3H803.2Z"/>
<path d="M803.5 419.8H832.3M803.4 429.2H832.4"/>
<path fill="#c0c0c0" d="M800.6 475.5H835.2V482L800.6 506Z"/>
<path fill="#c0c0c0" stroke-width="0.9" d="M806.2 490.1A7.9 7.9 0 0 1 820 481L823.9 488.3L813.5 497.4Z"/>
<path stroke-width="0.9" d="M806.2 490.1L820 481M808.4 493L822 484"/>
<path fill="#c0c0c0" stroke-width="0.8" d="M796.4 534Q796.6 530.5 798.5 528.5L801.5 524.5L852.3 490.2Q855 488 858.5 486.6L850 497Z"/>
<path fill="#c0c0c0" stroke-width="0.9" d="M842.9 476.1L851.6 487.9L801 523.8L792.6 512.1Z"/>
<path fill="#c0c0c0" stroke-width="0.8" d="M851.6 487.9L852.3 490.2L801.9 525.3L801 523.8Z"/>
<path stroke-width="1.6" stroke="#111" d="M813.5 497.4L821.3 509.1M823.9 488.3L830.8 502.2"/>
<path stroke-width="0.7" d="M817 494.3L824.5 506.5M820.4 491.4L827.6 503.8"/>
<path stroke-width="0.6" d="M804.9 475.4L832.1 514.7"/>
<path fill="#c0c0c0" d="M797.3 453.3H838.9V456.2H797.3Z"/>
<path fill="#c0c0c0" d="M794.4 456.2H841.7V475.5H794.4Z"/>
<path stroke-width="0.9" d="M808.7 456.2V466H826.5V456.2M811 456.2V464.6H824.2V456.2"/>
<path fill="#c0c0c0" stroke-width="0.9" d="M860.3 486.2H997Q1006.5 486.9 1007.5 497.2L1009.5 600L1011.8 673.6H793L794.3 600L796.2 536Q796.3 532.6 798.6 531L852.3 493.5Q854 489.5 857.5 487Q858.8 486.3 860.3 486.2Z"/>
<path d="M850.7 498.2H1007.6M857.5 487L850.7 498.2L849 496.6"/>
<path d="M873 498.5Q871.5 492 875 488Q877 485.9 880 485.8M931.3 498.5Q932.8 492 929.3 488Q927.3 485.9 924.3 485.8"/>
<path stroke-width="0.6" d="M864 487.3H997"/>
<path fill="#c0c0c0" stroke-width="0.9" d="M790.5 674.4H1013.3V703.6H790.5Z"/>
<path stroke-width="0.6" d="M793 673.6H1011.8"/>
<circle cx="902.1" cy="691.9" r="8.6" fill="#c0c0c0" stroke-width="1.3"/>
<path stroke-width="1.1" d="M896 697.3L906.5 685.3M898 698.6L908.4 686.8"/>
<path fill="#c0c0c0" stroke-width="0.9" d="M788.4 703.6H1015.1L1016.5 727Q1018 750 1021.5 777.7L1024.3 785.3V806.9H779.8V785.3L782.5 777.7Q786 750 787.4 727Z"/>
<path stroke-width="0.7" d="M788.4 705.3H1015.1M787.6 771.5H1016.4M783 779.2H1021.2M779.8 794.6H1024.4"/>
<path stroke-width="1.2" d="M780 784.4H1024M779.8 791.4H1024.4"/>
<path fill="#fff" stroke="none" d="M791.7 805.6H802.3V807.6H791.7Z"/>
<path fill="#fff" stroke="none" d="M832 805.6H851V807.6H832Z"/>
<path fill="#fff" stroke="none" d="M890.4 805.6H913.4V807.6H890.4Z"/>
<path fill="#fff" stroke="none" d="M953.3 805.6H972.8V807.6H953.3Z"/>
<path fill="#fff" stroke="none" d="M1002 805.6H1012.5V807.6H1002Z"/>
<path stroke-width="0.8" d="M790.7 806.9L791.7 805.4H802.3L803.3 806.9M831 806.9L832 805.4H851L852 806.9M889.4 806.9L890.4 805.4H913.4L914.4 806.9M952.3 806.9L953.3 805.4H972.8L973.8 806.9M1001 806.9L1002 805.4H1012.5L1013.5 806.9"/>
<path fill="#c0c0c0" stroke-width="1.5" d="M802.3 710.4L805.5 710.4Q807.3 745 806.1 773.6Q805.0 781 800.4 784.4L793.4 784.4Z"/>
<path stroke-width="0.8" d="M804.0 712Q803.5 750 799.7 781.2M803.5 716L796.0 784"/>
<path fill="#c0c0c0" stroke-width="1.5" d="M1001.9 710.4L998.7 710.4Q996.9 745 998.1 773.6Q999.2 781 1003.8 784.4L1010.8 784.4Z"/>
<path stroke-width="0.8" d="M1000.2 712Q1000.7 750 1004.5 781.2M1000.7 716L1008.2 784"/>
<path fill="#c0c0c0" stroke-width="1.5" d="M860.7 710.4L865.7 710.4Q869.3 735 869.5 771L867.6 784.4L854.3 784.4L856.9 763.5Q857.3 735 860.7 710.4Z"/>
<path stroke-width="0.8" d="M863.4 711Q862.6 750 863.8 778.7L866.4 784M864.6 712Q867.6 745 867.4 776"/>
<path fill="#c0c0c0" stroke-width="1.5" d="M944.1 710.4L939.1 710.4Q935.5 735 935.3 771L937.2 784.4L950.5 784.4L947.9 763.5Q947.5 735 944.1 710.4Z"/>
<path stroke-width="0.8" d="M941.4 711Q942.2 750 941.0 778.7L938.4 784M940.2 712Q937.2 745 937.4 776"/>
<path stroke-width="1.4" d="M788.6 724Q787 752 783.2 776M1015.6 724Q1017.2 752 1021 776"/>
<path stroke-width="0.8" d="M783.4 773Q784.5 779.3 788 779.3M1020.8 773Q1019.7 779.3 1016.2 779.3"/>
<path fill="#c0c0c0" stroke-width="0.9" d="M907.7 399V384Q907.9 380.6 911.5 380.5H930.6V399Z"/>
<path fill="#c0c0c0" stroke-width="0.8" d="M916.6 382.5H920.4V476Q920.3 485.6 911 485.8H887V482.5H910Q916.5 482.3 916.6 476Z"/>
<path fill="#c0c0c0" stroke-width="0.8" d="M894.5 473.6H909.7V480H894.5ZM892.5 480H911.5V482.5H892.5Z"/>
<path stroke-width="0.7" d="M898.4 473.6V480M905.8 473.6V480"/>
<path fill="#c0c0c0" stroke-width="0.7" d="M944.5 358.4V352.5H947V358.4M949 358.4V352.5H951.6V358.4"/>
<path fill="#c0c0c0" stroke-width="0.8" d="M941.5 358.4H955V386Q952 387.8 948.3 386.6Q944.5 385.4 941.5 387Z"/>
<path fill="#c0c0c0" stroke-width="0.8" d="M941.5 418V389.2Q944.5 387.6 948.3 388.8Q952 390 955 388.2V418Z"/>
<path fill="#c0c0c0" stroke-width="0.8" d="M940.2 418H956L958 430.7V461.7H937.7V430.7Z"/>
<path stroke-width="0.7" d="M937.7 430.7H958"/>
<path fill="#c0c0c0" stroke-width="0.8" d="M929.5 461.2H936.4V465.5H929.5ZM956.7 461.2H965V465.5H956.7Z"/>
<path fill="#c0c0c0" stroke-width="0.8" d="M936.4 461.7H957.5V464.5H936.4Z"/>
<path stroke-width="0.6" d="M933 461.2V465.5M961 461.2V465.5"/>
<path fill="#c0c0c0" stroke-width="0.8" d="M925.5 474.4V468.5Q925.7 466.9 927.5 466.8H968.2Q970 466.9 970.2 468.5V474.4Z"/>
<path fill="#c0c0c0" stroke-width="0.8" d="M926.8 474.4H968.9V485.8H926.8Z"/>
<path stroke-width="0.6" d="M925.5 472.8H970.2M927 476.2H968.7"/>
<path stroke-width="0.7" stroke-dasharray="26 3 3 3" d="M902.1 459V816.6"/>
<path stroke-width="0.7" stroke-dasharray="20 3 3 3" d="M817.8 407.5V500"/>
</g>
</g>
<g id="dims">
<g stroke="#000" stroke-width="1.6" fill="none">
<!-- top view: OD -->
<path d="M902 16.4H1093.2M902 260.8H1093.2M1087.4 16.4V260.8"/>
<!-- A -->
<path d="M817.9 180V308.9M1024.2 138.6V308.9M817.9 303.8H1024.2"/>
<!-- side view: Ød -->
<path d="M784 399H852M803.6 394V413.6M832.2 394V413.6"/>
<!-- B -->
<path d="M697 413.6H803.6M703.5 413.6V806.6"/>
<!-- H -->
<path d="M926.2 380.5H1155M1149 380.5V806.6"/>
<!-- ground -->
<path d="M697 806.6H780M1024.4 806.6H1155"/>
<path stroke-width="2" d="M1024.4 806.4H1094.5"/>
<path stroke-width="1" d="M1090 772.4V827"/>
</g>
<g fill="#000" stroke="none">
<path d="M1087.4 16.4L1085.7 30H1089.1ZM1087.4 260.8L1085.7 247.2H1089.1Z"/>
<path d="M817.9 303.8L831.5 302.1V305.5ZM1024.2 303.8L1010.6 302.1V305.5Z"/>
<path d="M803.6 399L790 397.3V400.7ZM832.2 399L845.8 397.3V400.7Z"/>
<path d="M703.5 413.6L701.8 427.2H705.2ZM703.5 806.6L701.8 793H705.2Z"/>
<path d="M1149 380.5L1147.3 394.1H1150.7ZM1149 806.6L1147.3 793H1150.7Z"/>
<path d="M1090 806L1088.3 792.4H1091.7ZM1090 807.2L1088.3 820.8H1091.7Z"/>
</g>
<text x="806" y="393.3" font-size="16.5">Ød</text>
<text x="914.8" y="299.5" font-size="17.6">A</text>
<text transform="translate(1082.7 150.9) rotate(-90)" font-size="18" textLength="24.6" lengthAdjust="spacingAndGlyphs">ØD</text>
<text transform="translate(698.9 617) rotate(-90)" font-size="17.6">B</text>
<text transform="translate(1144.5 600.6) rotate(-90)" font-size="18">H</text>
<text transform="translate(1086.1 790.9) rotate(-90)" font-size="18.4" textLength="19.3" lengthAdjust="spacingAndGlyphs">W1</text>
<text x="824.4" y="855.6" font-size="21.3"><tspan font-size="22.2" textLength="36.8" lengthAdjust="spacingAndGlyphs">W1:</tspan><tspan x="861.6">最低运行水位</tspan></text>
</g>
</svg>
</body>
</html>
